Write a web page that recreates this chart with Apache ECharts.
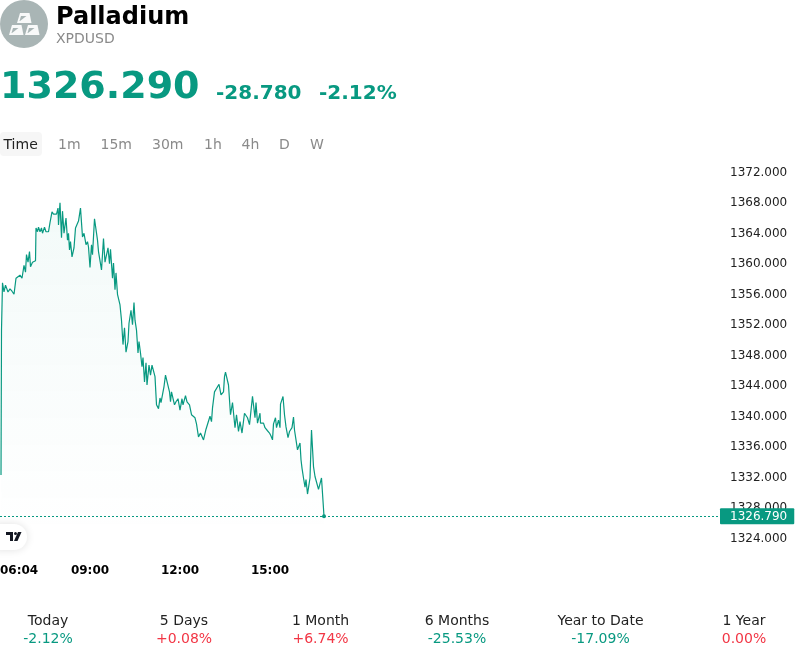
<!DOCTYPE html>
<html><head><meta charset="utf-8">
<style>html,body{margin:0;padding:0;background:#fff}#c{width:800px;height:658px}</style>
<script src="https://cdn.jsdelivr.net/npm/echarts@6/dist/echarts.min.js"></script>
</head><body><div id="c"></div>
<script>
const minutesAfter0600 = [2,3,5,8,11,13,16,20,24,28,32,36,40,44,48,51,53,56,59,61,65,71,72,75,77,80,83,85,89,92,97,100,104,107,110,113,116,117,120,123,125,128,132,135,137,139,141,144,148,151,153,157,159,161,165,168,172,175,177,180,183,185,189,191,195,197,200,203,207,210,213,216,219,221,225,227,230,232,235,240,243,246,249,252,256,258,262,265,268,270,273,276,278,281,284,286,289,292,294,298,301,304,306,310,313,317,320,322,325,328,331,335,339,341,343,346,349,352,356,360,364,366,371,374,379,383,390,393,397,401,407,412,415,420,423,425,429,433,438,442,447,449,451,455,457,460,461,465,470,473,477,480,484,489,492,495,499,501,505,507,510,512,515,520,521,527,530,535,539,542,545,547,551,553,557,560,561,566,569,572,576,579,584,587,589,592,595,600,602,604,607,610,612,615,620,623,627,630,633,637,640,643,645,648];
const prices = [1332.2,1351.2,1357.4,1356.2,1357.1,1357.1,1356.2,1356.6,1356.3,1355.9,1358.0,1357.8,1358.4,1358.0,1359.7,1358.8,1361.1,1360.1,1361.5,1359.5,1360.1,1360.3,1364.6,1364.1,1364.7,1364.1,1364.6,1363.9,1364.7,1364.1,1364.1,1365.3,1366.7,1366.4,1366.6,1366.4,1367.2,1365.0,1367.9,1363.3,1366.8,1363.9,1365.9,1363.0,1363.9,1361.7,1362.8,1360.8,1362.0,1364.6,1364.5,1365.5,1365.4,1367.2,1363.4,1363.9,1362.4,1362.8,1362.1,1359.4,1362.4,1361.1,1365.8,1365.9,1363.0,1361.5,1361.7,1359.1,1363.2,1360.1,1360.0,1362.0,1359.9,1361.8,1358.0,1360.0,1356.5,1358.7,1355.9,1354.5,1352.5,1349.3,1351.5,1348.3,1349.7,1352.1,1353.8,1351.9,1354.8,1352.5,1351.2,1348.2,1349.7,1348.2,1346.4,1347.6,1344.4,1346.9,1344.0,1346.6,1345.3,1346.6,1346.4,1345.1,1341.4,1340.9,1342.3,1341.7,1341.8,1343.8,1345.3,1345.2,1343.1,1341.8,1343.1,1343.0,1341.4,1341.8,1342.2,1340.7,1342.2,1341.4,1342.6,1341.8,1341.4,1340.1,1339.7,1338.9,1337.2,1337.7,1336.8,1338.2,1338.0,1339.9,1339.2,1341.0,1343.1,1343.2,1344.1,1342.7,1343.1,1345.1,1345.7,1345.7,1344.0,1343.8,1340.1,1341.7,1338.4,1340.1,1337.9,1339.2,1337.7,1340.3,1340.1,1339.7,1338.8,1339.0,1342.5,1342.3,1339.7,1341.7,1339.0,1340.3,1339.0,1339.0,1338.4,1338.0,1337.7,1337.3,1336.8,1338.9,1339.7,1338.4,1339.4,1338.4,1341.5,1342.5,1340.1,1338.5,1337.1,1337.9,1338.4,1339.8,1338.1,1336.8,1335.5,1336.4,1334.2,1333.1,1331.8,1330.6,1331.6,1329.7,1331.8,1338.1,1333.3,1332.0,1332.2,1330.3,1330.5,1331.8,1332.0,1326.79];
const timeTickMinutes = [0,180,360,540];
const timeTickLabels = ['06:04','09:00','12:00','15:00'];
const currentPrice = 1326.79;
const tabs = ['Time','1m','15m','30m','1h','4h','D','W'];
const periods = ['Today','5 Days','1 Month','6 Months','Year to Date','1 Year'];
const periodChanges = ['-2.12%','+0.08%','+6.74%','-25.53%','-17.09%','0.00%'];

const GREEN='#089981', RED='#f23645', FF='"DejaVu Sans", sans-serif';
const tabX=[3.5,58,100.5,152,204,241.5,279,310];
const periodX=[48,184,320.5,457,600.5,744];
const txt=(text,x,y,size,fill,weight,align)=>({type:'text',x,y,silent:true,style:{text,fill,font:(weight||'normal')+' '+size+'px '+FF,textAlign:align||'left',textVerticalAlign:'middle'}});
const ingot=(x,y)=>[
 {type:'polygon',silent:true,shape:{points:[[x+3,y],[x+12.5,y],[x+14.5,y+10],[x,y+10]]},style:{fill:'#fff',opacity:.92}},
 {type:'polygon',silent:true,shape:{points:[[x+4,y+3],[x+9.5,y+3],[x+3,y+8],[x+2.5,y+8]]},style:{fill:'#a9b5b5'}}
];
const graphics=[
 {type:'circle',silent:true,shape:{cx:24,cy:24,r:24},style:{fill:'#a9b5b5'}},
 ...ingot(17,13),...ingot(9,25),...ingot(25,25),
 txt('Palladium',56,18,24,'#000','bold'),
 txt('XPDUSD',56,39,14,'#8a8a8a'),
 txt('1326.290',0,88.5,38,GREEN,'bold'),
 txt('-28.780',216,93.5,20,GREEN,'bold'),
 txt('-2.12%',319,93.5,20,GREEN,'bold'),
 {type:'rect',silent:true,shape:{x:0,y:132,width:42,height:24,r:4},style:{fill:'#f6f6f6'}},
 ...tabs.map((t,i)=>txt(t,tabX[i],145,14,i===0?'#222':'#8a8a8a')),
 {type:'rect',silent:true,z:10,shape:{x:-14,y:524,width:41,height:26,r:13},style:{fill:'#fff',shadowBlur:8,shadowColor:'rgba(0,0,0,.12)'}},
 {type:'polygon',silent:true,z:11,shape:{points:[[6,532],[13,532],[13,541],[10,541],[10,535],[6,535]]},style:{fill:'#131722'}},
 {type:'circle',silent:true,z:11,shape:{cx:15.5,cy:533.5,r:1.5},style:{fill:'#131722'}},
 {type:'polygon',silent:true,z:11,shape:{points:[[18,532],[21.5,532],[17.5,541],[14,541]]},style:{fill:'#131722'}},
 ...periods.map((p,i)=>txt(p,periodX[i],621,14,'#222','normal','center')),
 ...periodChanges.map((p,i)=>txt(p,periodX[i],639,14,p[0]==='-'?GREEN:RED,'normal','center'))
];
const chart=echarts.init(document.getElementById('c'),null,{renderer:'canvas'});
chart.setOption({
 animation:false,
 graphic:graphics,
 grid:{left:0,width:720,top:171.5,height:366,outerBoundsMode:'none'},
 xAxis:{type:'value',min:0,max:1440,axisLine:{show:false},axisTick:{show:false},splitLine:{show:false},
  axisLabel:{customValues:timeTickMinutes,margin:27,color:'#000',fontFamily:FF,fontWeight:'bold',fontSize:12,alignMinLabel:'left',
   formatter:v=>timeTickLabels[timeTickMinutes.indexOf(v)]}},
 yAxis:{type:'value',position:'right',min:1324,max:1372,interval:4,axisLine:{show:false},axisTick:{show:false},splitLine:{show:false},
  axisLabel:{margin:10,formatter:v=>'{v|'+v.toFixed(3)+'}',rich:{v:{padding:[2,0,0,0],color:'#222',fontFamily:FF,fontSize:12}}}},
 series:[{type:'line',showSymbol:false,symbol:'none',silent:true,
  data:minutesAfter0600.map((m,i)=>[m,prices[i]]),
  lineStyle:{color:GREEN,width:1.2},
  areaStyle:{origin:'start',color:new echarts.graphic.LinearGradient(0,0,0,1,[{offset:0,color:'rgba(8,153,129,.07)'},{offset:1,color:'rgba(8,153,129,0)'}])},
  markLine:{silent:true,symbol:'none',lineStyle:{color:GREEN,type:[2,2],width:1},
   data:[{yAxis:currentPrice}],
   label:{position:'end',distance:0,formatter:()=>'{t|'+currentPrice.toFixed(3)+'}',backgroundColor:GREEN,padding:[1,7,1,10],borderRadius:1,
    rich:{t:{padding:[2,0,0,0],color:'#fff',fontFamily:FF,fontSize:12}}}},
  markPoint:{silent:true,symbol:'circle',symbolSize:4,itemStyle:{color:GREEN},label:{show:false},
   data:[{coord:[minutesAfter0600[minutesAfter0600.length-1],currentPrice]}]}
 }]
});
</script></body></html>
